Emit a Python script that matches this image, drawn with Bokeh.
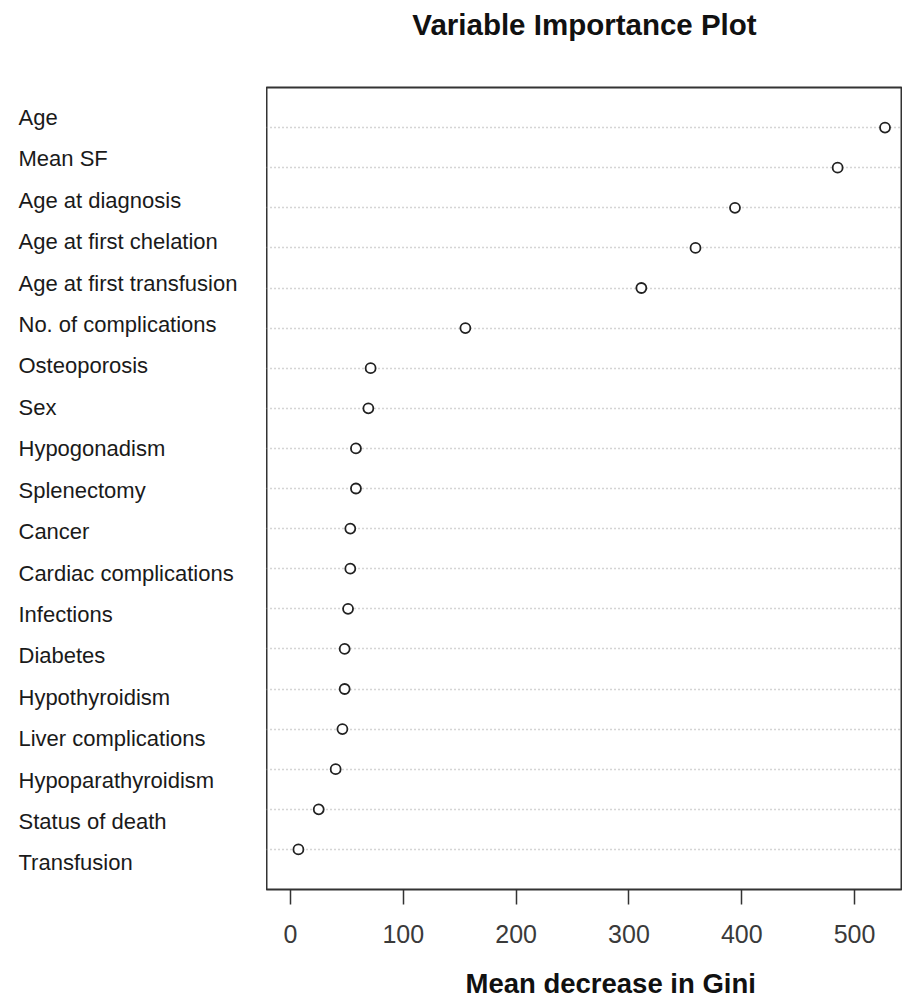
from bokeh.plotting import figure
from bokeh.layouts import row
from bokeh.models import Range1d, FixedTicker, Title
from bokeh.core.properties import value
from bokeh.embed import file_html
from bokeh.resources import INLINE

# ---- data (top to bottom, as in the chart) ----
variables = [
    "Age", "Mean SF", "Age at diagnosis", "Age at first chelation",
    "Age at first transfusion", "No. of complications", "Osteoporosis", "Sex",
    "Hypogonadism", "Splenectomy", "Cancer", "Cardiac complications",
    "Infections", "Diabetes", "Hypothyroidism", "Liver complications",
    "Hypoparathyroidism", "Status of death", "Transfusion",
]
importance = [
    527, 485, 394, 359, 311, 155, 71, 69, 58, 58, 53, 53, 51, 48, 48, 46, 40, 25, 7,
]
x_ticks = [0, 100, 200, 300, 400, 500]
title_text = "Variable Importance Plot"
x_label = "Mean decrease in Gini"

n = len(variables)
pos = list(range(n, 0, -1))

FONT = "Liberation Sans"
H = 1003
TOP = 87
BOTTOM = 113

# ---- left panel: variable names (left aligned) ----
left = figure(
    width=266, height=H,
    x_range=Range1d(0, 266), y_range=Range1d(0.36, n + 0.72),
    toolbar_location=None, output_backend="svg",
    x_axis_location=None, y_axis_location=None,
    min_border_left=0, min_border_right=0,
    min_border_top=TOP, min_border_bottom=BOTTOM,
    outline_line_color=None,
)
left.grid.visible = False
left.text(
    x=[18] * n, y=pos, text=variables,
    text_font=value(FONT), text_font_size="22px",
    text_baseline="middle", text_align="left", text_color="#1a1a1a",
)

# ---- main dot chart ----
p = figure(
    width=636, height=H,
    x_range=Range1d(-21.3, 542.5), y_range=Range1d(0, n + 1),
    toolbar_location=None, output_backend="svg",
    y_axis_location=None,
    min_border_left=0, min_border_right=0,
    min_border_top=TOP, min_border_bottom=BOTTOM,
    title=title_text,
)
p.title.text_font = FONT
p.title.text_font_size = "29.5px"
p.title.text_font_style = "bold"
p.title.text_color = "#111111"
p.title.align = "center"
# blank spacer between the title and the frame
p.add_layout(Title(text=" ", text_font_size="26px"), "above")

p.outline_line_color = "#333333"
p.outline_line_width = 2
p.grid.visible = False

p.hspan(y=pos, line_color="#aaaaaa", line_dash="1 3", line_width=1.3)
p.scatter(
    x=importance, y=pos, marker="circle", size=10,
    fill_color="white", line_color="#222222", line_width=1.8,
)

ax = p.xaxis[0]
ax.ticker = FixedTicker(ticks=x_ticks)
ax.axis_line_color = None
ax.major_tick_line_color = "#333333"
ax.major_tick_line_width = 1.5
ax.major_tick_out = 15
ax.major_tick_in = 0
ax.minor_tick_line_color = None
ax.major_label_text_font = FONT
ax.major_label_text_font_size = "25px"
ax.major_label_text_color = "#3a3a3a"
ax.major_label_standoff = 20

# x-axis title (sits right of centre, as in the reference)
p.add_layout(Title(text=" ", text_font_size="3px"), "below")
p.add_layout(
    Title(
        text=x_label, align="left", offset=199,
        text_font=FONT, text_font_size="27.5px", text_font_style="bold",
        text_color="#111111",
    ),
    "below",
)

layout = row(left, p)
open("out.html", "w").write(file_html(layout, INLINE))
